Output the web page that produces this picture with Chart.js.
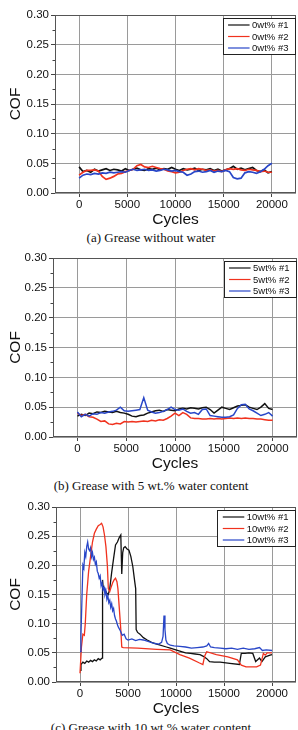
<!DOCTYPE html>
<html><head><meta charset="utf-8">
<script src="https://cdn.jsdelivr.net/npm/chart.js@4.4.0/dist/chart.umd.min.js"></script>
<style>
html,body{margin:0;padding:0;background:#fff;width:298px;height:730px;overflow:hidden;}
canvas{position:absolute;left:0;}
.cap{position:absolute;left:0;width:302px;text-align:center;font-family:'Liberation Serif','Times New Roman',serif;font-size:13px;line-height:16px;color:#111;white-space:nowrap;}
</style></head><body>
<canvas id="ca" width="298" height="230" style="top:0px"></canvas>
<div class="cap" style="top:230px">(a) Grease without water</div>
<canvas id="cb" width="298" height="231" style="top:243px"></canvas>
<div class="cap" style="top:478px">(b) Grease with 5 wt.% water content</div>
<canvas id="cc" width="298" height="227" style="top:492px"></canvas>
<div class="cap" style="top:720px">(c) Grease with 10 wt.% water content</div>
<script>
// ---- axis ticks ----
const X_TICKS = [0, 5000, 10000, 15000, 20000];
const Y_TICKS = [0.00, 0.05, 0.10, 0.15, 0.20, 0.25, 0.30];
const X_MIN = -2500, X_MAX = 22500;

// ---- shared cycle grid for panels (a) and (b) ----
const CYCLES_AB = [0,400,800,1200,1600,2000,2400,2800,3200,3600,4000,4400,4800,5200,5600,6000,6400,6800,7200,7600,8000,8400,8800,9200,9600,10000,10400,10800,11200,11600,12000,12400,12800,13200,13600,14000,14400,14800,15200,15600,16000,16400,16800,17200,17600,18000,18400,18800,19200,19600,20000];

// ---- (a) Grease without water ----
const LABELS_A = ['0wt% #1', '0wt% #2', '0wt% #3'];
const A1 = [0.044,0.036,0.038,0.035,0.040,0.037,0.039,0.041,0.038,0.040,0.039,0.037,0.041,0.038,0.040,0.042,0.039,0.038,0.041,0.040,0.042,0.039,0.041,0.040,0.043,0.040,0.038,0.041,0.039,0.040,0.042,0.038,0.040,0.039,0.041,0.038,0.040,0.037,0.039,0.041,0.045,0.040,0.042,0.039,0.041,0.043,0.038,0.036,0.039,0.034,0.036];
const A2 = [0.030,0.035,0.038,0.038,0.039,0.037,0.028,0.023,0.025,0.028,0.032,0.033,0.036,0.038,0.040,0.046,0.048,0.044,0.043,0.045,0.043,0.041,0.040,0.037,0.036,0.034,0.035,0.038,0.040,0.041,0.039,0.041,0.040,0.038,0.039,0.037,0.038,0.036,0.039,0.041,0.040,0.041,0.039,0.038,0.040,0.039,0.038,0.036,0.037,0.035,0.035];
const A3 = [0.025,0.030,0.032,0.031,0.033,0.032,0.034,0.033,0.035,0.034,0.035,0.036,0.035,0.038,0.040,0.038,0.039,0.040,0.038,0.039,0.037,0.038,0.040,0.039,0.037,0.038,0.036,0.035,0.030,0.032,0.036,0.037,0.035,0.036,0.038,0.035,0.037,0.036,0.038,0.036,0.026,0.024,0.025,0.034,0.036,0.035,0.033,0.036,0.040,0.046,0.050];

// ---- (b) Grease with 5 wt.% water ----
const LABELS_B = ['5wt% #1', '5wt% #2', '5wt% #3'];
const B1 = [0.035,0.038,0.036,0.040,0.039,0.042,0.041,0.043,0.042,0.041,0.043,0.041,0.040,0.038,0.035,0.034,0.036,0.037,0.040,0.042,0.044,0.045,0.043,0.046,0.045,0.044,0.047,0.048,0.047,0.049,0.048,0.047,0.049,0.050,0.046,0.040,0.045,0.050,0.048,0.046,0.049,0.052,0.053,0.054,0.050,0.048,0.046,0.050,0.056,0.048,0.046];
const B2 = [0.040,0.036,0.038,0.034,0.033,0.030,0.026,0.027,0.022,0.021,0.023,0.022,0.026,0.025,0.026,0.025,0.026,0.027,0.026,0.028,0.027,0.029,0.028,0.031,0.035,0.040,0.036,0.041,0.038,0.032,0.031,0.031,0.030,0.030,0.031,0.030,0.031,0.030,0.031,0.032,0.031,0.032,0.031,0.032,0.031,0.031,0.030,0.030,0.029,0.028,0.028];
const B3 = [0.042,0.034,0.038,0.035,0.039,0.038,0.041,0.040,0.042,0.043,0.045,0.050,0.044,0.043,0.044,0.045,0.046,0.066,0.045,0.042,0.040,0.041,0.043,0.046,0.050,0.046,0.045,0.047,0.043,0.040,0.041,0.038,0.046,0.047,0.036,0.035,0.034,0.033,0.033,0.034,0.037,0.048,0.054,0.055,0.047,0.044,0.040,0.036,0.038,0.041,0.035];

// ---- (c) Grease with 10 wt.% water ----
const LABELS_C = ['10wt% #1', '10wt% #2', '10wt% #3'];
const C1_X = [0,100,300,500,700,900,1100,1300,1500,1700,1900,2100,2300,2350,2400,2600,2800,2950,3100,3300,3500,3700,3900,4100,4250,4350,4450,4550,4700,4900,5100,5300,5500,5700,5800,5850,6000,6250,6600,7000,7450,8000,9000,9400,10400,11000,11500,12000,12500,12850,13200,13500,14000,14600,15600,16600,16800,17200,17600,18000,18300,18700,18950,19300,19800,20000];
const C1_Y = [0.020,0.030,0.034,0.032,0.036,0.034,0.037,0.035,0.038,0.036,0.040,0.038,0.041,0.175,0.165,0.158,0.152,0.150,0.160,0.188,0.212,0.235,0.240,0.248,0.252,0.185,0.222,0.230,0.232,0.228,0.226,0.215,0.198,0.172,0.160,0.090,0.085,0.082,0.076,0.072,0.068,0.065,0.060,0.058,0.053,0.050,0.049,0.048,0.047,0.044,0.040,0.035,0.034,0.034,0.032,0.030,0.049,0.049,0.050,0.049,0.035,0.041,0.035,0.043,0.046,0.047];
const C2_X = [0,150,300,450,550,700,900,1100,1300,1500,1700,1900,2100,2250,2400,2550,2700,2850,2950,3100,3250,3400,3550,3700,3850,3950,4100,4250,4350,4500,6000,8000,9400,10400,11400,12400,12800,12900,13000,13200,14200,15400,16400,16800,17300,18400,18800,19100,19300,19500,20000];
const C2_Y = [0.015,0.060,0.082,0.080,0.100,0.150,0.190,0.215,0.240,0.255,0.262,0.268,0.270,0.272,0.266,0.252,0.232,0.200,0.160,0.155,0.163,0.170,0.175,0.178,0.172,0.160,0.125,0.090,0.060,0.059,0.058,0.056,0.055,0.047,0.041,0.033,0.030,0.038,0.045,0.052,0.047,0.043,0.038,0.029,0.026,0.026,0.029,0.049,0.046,0.050,0.050];
const C3_X = [0,100,200,300,400,500,600,700,800,900,1000,1100,1200,1300,1400,1500,1600,1700,1800,1900,2000,2100,2200,2300,2400,2500,2600,2700,2800,2900,3000,3100,3200,3300,3400,3500,3600,3700,3800,3900,4000,4200,4400,4600,4800,5000,5400,5800,6200,6600,7000,7400,7800,8200,8500,8650,8750,8850,8950,9100,9400,9800,10400,11000,11600,12200,12800,13200,13400,13600,14000,14600,15200,15800,16400,17000,17600,18200,18700,19000,19400,20000];
const C3_Y = [0.052,0.080,0.140,0.200,0.195,0.222,0.215,0.232,0.240,0.228,0.225,0.230,0.215,0.222,0.210,0.214,0.202,0.206,0.190,0.186,0.178,0.182,0.165,0.170,0.158,0.162,0.150,0.156,0.142,0.148,0.136,0.140,0.128,0.134,0.122,0.126,0.114,0.108,0.104,0.098,0.094,0.088,0.080,0.082,0.074,0.072,0.074,0.071,0.073,0.072,0.070,0.068,0.066,0.065,0.068,0.078,0.114,0.090,0.072,0.066,0.063,0.062,0.061,0.060,0.058,0.059,0.060,0.062,0.066,0.060,0.059,0.058,0.057,0.058,0.056,0.058,0.056,0.057,0.059,0.054,0.055,0.054];

const COLORS = ['#111111', '#f0321e', '#2846c8'];
const FONT = "'Liberation Sans', Arial, sans-serif";

function pts(xs, ys) { return xs.map((x, i) => ({x: x, y: ys[i]})); }

const framePlugin = {
  id: 'frameLegend',
  afterDraw(chart, args, opts) {
    const ctx = chart.ctx, a = chart.chartArea;
    const ys = chart.scales.y;
    ctx.save();
    // minor ticks on y
    ctx.strokeStyle = '#444'; ctx.lineWidth = 1;
    for (let i = 0; i < Y_TICKS.length - 1; i++) {
      const v = (Y_TICKS[i] + Y_TICKS[i + 1]) / 2;
      const py = Math.round(ys.getPixelForValue(v)) + 0.5;
      ctx.beginPath(); ctx.moveTo(a.left - 2.5, py); ctx.lineTo(a.left, py); ctx.stroke();
    }
    // frame
    ctx.strokeStyle = '#555'; ctx.lineWidth = 1;
    ctx.strokeRect(Math.round(a.left) + 0.5, Math.round(a.top) + 0.5, Math.round(a.right - a.left) - 1, Math.round(a.bottom - a.top) - 1);
    // legend
    ctx.font = '9.5px ' + FONT;
    const ds = chart.data.datasets;
    let tw = 0;
    ds.forEach(d => { tw = Math.max(tw, ctx.measureText(d.label).width); });
    const w = 29.5 + tw + 6.5, h = 36;
    const right = Math.round(a.right) - 1, top = Math.round(a.top) + 3;
    const left = right - w;
    ctx.fillStyle = '#fff';
    ctx.fillRect(left, top, w, h);
    ctx.strokeStyle = '#222'; ctx.lineWidth = 1;
    ctx.strokeRect(Math.round(left) + 0.5, top + 0.5, Math.round(w), h);
    ds.forEach((d, i) => {
      const cy = top + 7 + i * 11.5;
      ctx.strokeStyle = d.borderColor; ctx.lineWidth = 1.2;
      ctx.beginPath(); ctx.moveTo(left + 5.5, cy); ctx.lineTo(left + 27, cy); ctx.stroke();
      ctx.fillStyle = '#111'; ctx.textBaseline = 'middle'; ctx.textAlign = 'left';
      ctx.fillText(d.label, left + 29.5, cy + 0.5);
    });
    ctx.restore();
  }
};

function makeChart(id, labels, series, yWidth, padRight, lw) {
  const datasets = series.map((s, i) => ({
    label: labels[i], data: s, borderColor: COLORS[i], backgroundColor: COLORS[i],
    borderWidth: lw, pointRadius: 0, tension: 0, fill: false, order: 2 - i
  }));
  new Chart(document.getElementById(id), {
    type: 'line',
    data: {datasets: datasets},
    plugins: [framePlugin],
    options: {
      responsive: false, animation: false, devicePixelRatio: 1,
      layout: {padding: {top: 15, right: padRight, left: 0, bottom: 0}},
      plugins: {legend: {display: false}, tooltip: {enabled: false}},
      scales: {
        x: {
          type: 'linear', min: X_MIN, max: X_MAX,
          afterBuildTicks: sc => { sc.ticks = X_TICKS.map(v => ({value: v})); },
          afterFit: sc => { sc.height = 37; },
          border: {display: false},
          grid: {color: '#9a9a9a', borderDash: [1, 2], lineWidth: 1, drawTicks: true, tickLength: 4, tickColor: '#444', tickBorderDash: []},
          ticks: {color: '#111', font: {family: FONT, size: 11.5}, padding: 1, maxRotation: 0, callback: v => String(v)},
          title: {display: true, text: 'Cycles', color: '#111', font: {family: FONT, size: 15.5}, padding: {top: 0, bottom: 1}}
        },
        y: {
          min: 0, max: 0.30,
          afterBuildTicks: sc => { sc.ticks = Y_TICKS.map(v => ({value: v})); },
          afterFit: sc => { sc.width = yWidth; },
          border: {display: false},
          grid: {color: '#9a9a9a', borderDash: [1, 2], lineWidth: 1, drawTicks: true, tickLength: 4, tickColor: '#444', tickBorderDash: []},
          ticks: {color: '#111', font: {family: FONT, size: 11.5}, padding: 2, callback: v => Number(v).toFixed(2)},
          title: {display: true, text: 'COF', color: '#111', font: {family: FONT, size: 15.5}, padding: {top: 6, bottom: 0}}
        }
      }
    }
  });
}

makeChart('ca', LABELS_A, [pts(CYCLES_AB, A1), pts(CYCLES_AB, A2), pts(CYCLES_AB, A3)], 55, 2, 1.7);
makeChart('cb', LABELS_B, [pts(CYCLES_AB, B1), pts(CYCLES_AB, B2), pts(CYCLES_AB, B3)], 53, 1, 1.5);
makeChart('cc', LABELS_C, [pts(C1_X, C1_Y), pts(C2_X, C2_Y), pts(C3_X, C3_Y)], 56, 2, 1.3);
</script>
</body></html>
